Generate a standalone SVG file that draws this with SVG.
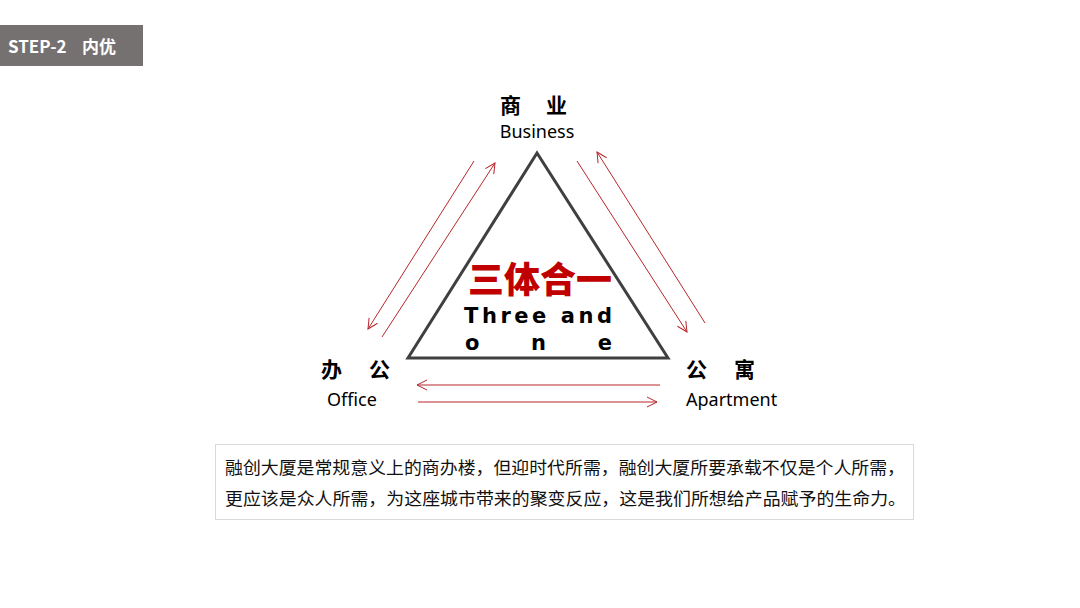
<svg xmlns="http://www.w3.org/2000/svg" width="1080" height="608" viewBox="0 0 1080 608">
<defs>
<style>
.cjk{font-family:"Noto Sans CJK SC","Noto Sans",sans-serif;}
.lbl{font-family:"Noto Sans CJK SC","Noto Sans",sans-serif;font-size:21px;font-weight:bold;fill:#000;}
.en{font-family:"Noto Sans","Open Sans",sans-serif;font-size:18px;fill:#000;}
.arr{stroke:#b8262b;stroke-width:1;fill:none;marker-end:url(#ah);}
.body{font-family:"Noto Sans CJK SC",sans-serif;font-size:17px;fill:#111;}
</style>
<marker id="ah" viewBox="0 0 12 12" refX="11" refY="6" markerWidth="12" markerHeight="12" markerUnits="userSpaceOnUse" orient="auto">
<path d="M1,1 L11,6 L1,11" fill="none" stroke="#b8262b" stroke-width="1"/>
</marker>
</defs>
<rect width="1080" height="608" fill="#fff"/>
<g id="header">
<rect x="0" y="25" width="143" height="41" fill="#767171"/>
<text x="8" y="53" class="cjk" font-size="17" font-weight="bold" fill="#fff">STEP-2</text>
<text x="82" y="53" class="cjk" font-size="17" font-weight="bold" fill="#fff">内优</text>
</g>
<g id="triangle">
<polygon points="537,153 408,358 668,358" fill="none" stroke="#404040" stroke-width="3"/>
<text x="540" y="293" text-anchor="middle" textLength="144" lengthAdjust="spacingAndGlyphs" class="cjk" font-size="36" font-weight="900" fill="#c00000">三体合一</text>
<text x="464" y="323" textLength="148" lengthAdjust="spacing" font-family="'DejaVu Sans',sans-serif" font-size="21" font-weight="bold" fill="#000">Three and</text>
<text x="465" y="350" textLength="147" lengthAdjust="spacing" font-family="'DejaVu Sans',sans-serif" font-size="21" font-weight="bold" fill="#000">o n e</text>
</g>
<g id="business">
<text x="500" y="113" class="lbl">商</text>
<text x="546" y="113" class="lbl">业</text>
<text x="537" y="138" text-anchor="middle" class="en">Business</text>
</g>
<g id="office">
<text x="321" y="377" class="lbl">办</text>
<text x="369" y="377" class="lbl">公</text>
<text x="327" y="406" class="en">Office</text>
</g>
<g id="apartment">
<text x="686" y="377" class="lbl">公</text>
<text x="734" y="377" class="lbl">寓</text>
<text x="686" y="406" class="en">Apartment</text>
</g>
<g id="connectors">
<line x1="474" y1="161" x2="368" y2="329" class="arr"/>
<line x1="382" y1="337" x2="495" y2="163" class="arr"/>
<line x1="577" y1="161" x2="687" y2="332" class="arr"/>
<line x1="705" y1="323" x2="597" y2="152" class="arr"/>
<line x1="660" y1="385" x2="417" y2="385" class="arr"/>
<line x1="418" y1="402" x2="657" y2="402" class="arr"/>
</g>
<g id="description">
<rect x="215.5" y="444.5" width="698" height="75" fill="#fff" stroke="#d9d9d9" stroke-width="1"/>
<text x="225" y="474" textLength="680" lengthAdjust="spacingAndGlyphs" class="body">融创大厦是常规意义上的商办楼，但迎时代所需，融创大厦所要承载不仅是个人所需，</text>
<text x="225" y="505" textLength="681" lengthAdjust="spacingAndGlyphs" class="body">更应该是众人所需，为这座城市带来的聚变反应，这是我们所想给产品赋予的生命力。</text>
</g>
</svg>
